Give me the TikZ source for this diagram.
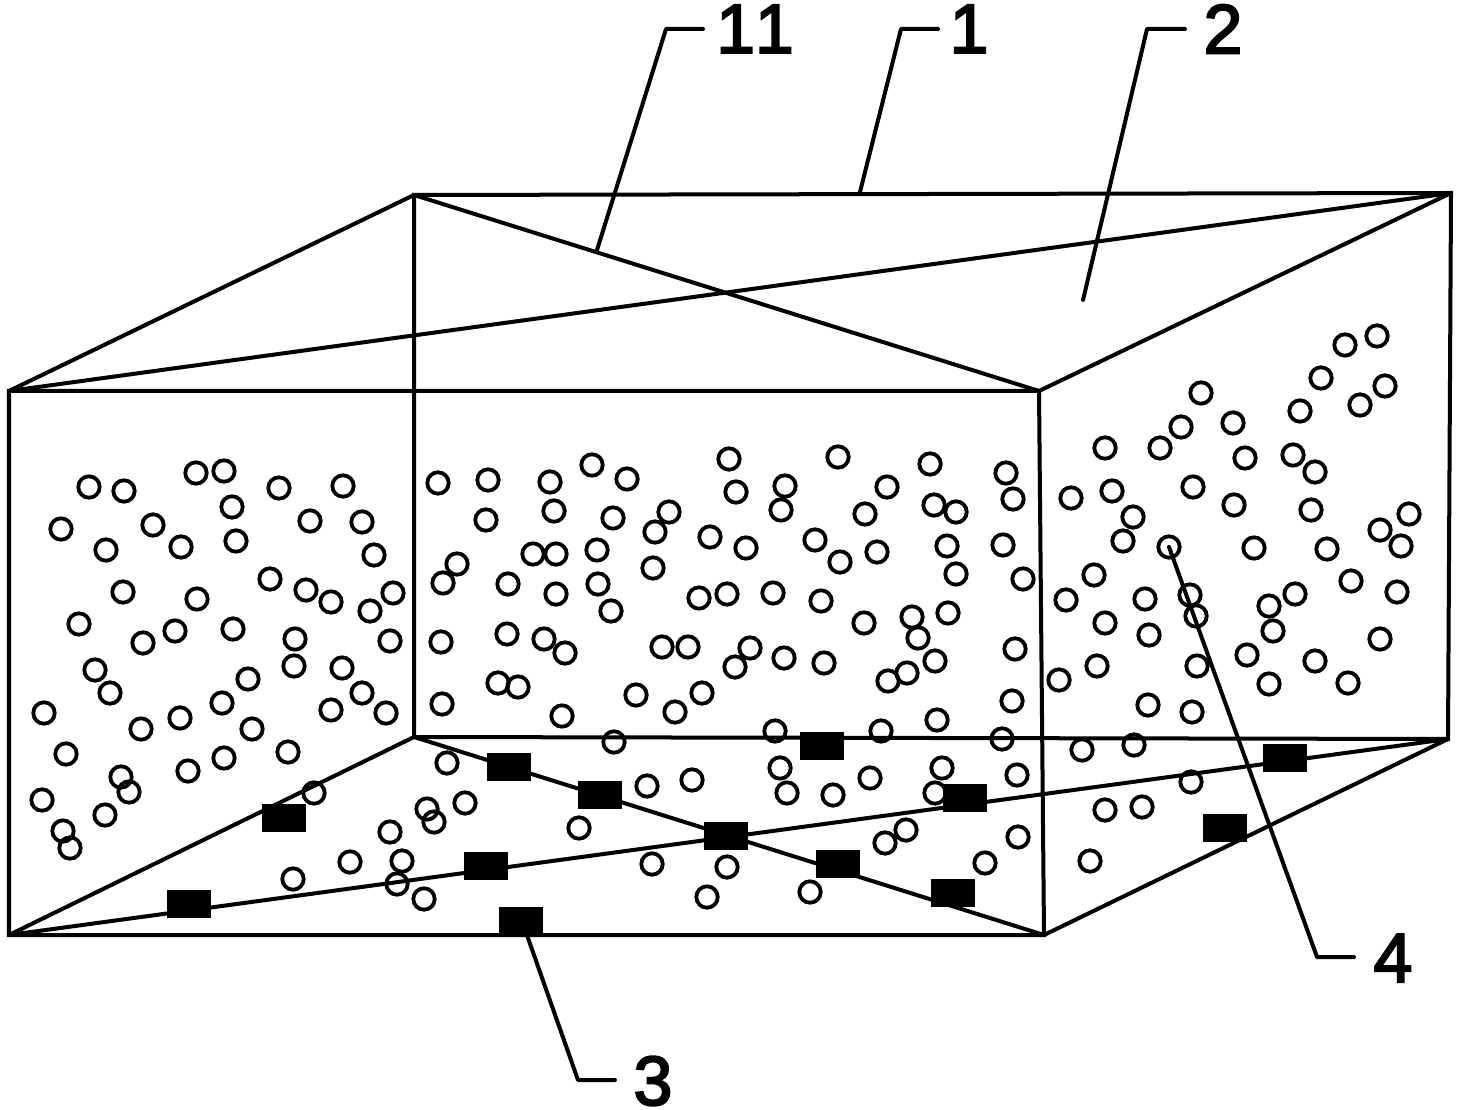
\documentclass[tikz,border=0pt]{standalone}
\usepackage{fontspec}
\setmainfont{Liberation Sans}
\newfontfamily\numfont[FakeBold=3,Kerning=Off]{Liberation Sans}
\usetikzlibrary{positioning}

\tikzset{
  frame/.style={line width=0.04cm, line join=miter},
  leader/.style={line width=0.04cm, line join=round, line cap=round},
  bubble/.style={line width=0.038cm},
  sensor/.style={fill=black, draw=none, minimum width=0.44cm, minimum height=0.27cm, inner sep=0pt},
  numlabel/.style={font=\fontsize{19.8}{20}\numfont, inner sep=0pt}
}

\begin{document}
\begin{tikzpicture}[x=0.01cm, y=-0.01cm]
\useasboundingbox (0,0) rectangle (1461,1110);

% box corners
\coordinate (ftl) at (9,391);
\coordinate (ftr) at (1039,391);
\coordinate (fbr) at (1044,935);
\coordinate (fbl) at (9,935);
\coordinate (btl) at (414,195);
\coordinate (btr) at (1451,193);
\coordinate (bbr) at (1448,739);
\coordinate (bbl) at (414,737);

% draw box
\draw[frame] (ftl) -- (ftr) -- (fbr) -- (fbl) -- cycle;
\draw[frame] (btl) -- (btr) -- (bbr) -- (bbl) -- cycle;
\draw[frame] (ftl) -- (btl);
\draw[frame] (ftr) -- (btr);
\draw[frame] (fbr) -- (bbr);
\draw[frame] (fbl) -- (bbl);

% diagonals of top and bottom
\draw[frame] (btl) -- (ftr);
\draw[frame] (ftl) -- (btr);
\draw[frame] (bbl) -- (fbr);
\draw[frame] (fbl) -- (bbr);

% left bubbles
\foreach \x/\y in {89/487,124/491,196/473,224/471,279/488,343/486,61/529,153/525,232/507,310/521,362/522,
  106/550,181/547,236/541,374/555,270/579,306/590,331/602,393/593,123/592,197/599,370/611,79/624,233/629,
  175/631,143/643,295/639,390/641,95/670,294/666,342/668,248/679,110/693,362/693,222/703,331/710,386/713,
  44/713,180/718,141/729,252/729,66/754,288/752,224/758,188/771,121/777,129/792,42/800,105/815,314/793,
  63/831,70/848}{
\draw[bubble] (\x,\y) circle (0.107cm);
}

% middle bubbles
\foreach \x/\y in {438/483,488/480,550/482,592/465,627/479,729/459,736/492,785/486,838/457,930/464,887/487,
  1006/473,1013/499,554/511,486/520,613/518,669/512,655/532,781/510,865/514,934/505,956/512,710/537,746/548,
  815/540,877/552,840/562,947/546,1003/545,533/554,556/554,597/550,457/564,653/568,956/574,1023/579,443/583,
  508/584,598/584,556/594,699/598,727/594,773/593,821/601,611/611,912/617,948/613,864/623,441/642,507/634,
  544/639,565/653,662/647,688/647,750/648,918/638,784/658,824/663,735/667,935/661,1015/649,907/673,888/681,
  498/683,518/687,636/695,702/693,442/704,1012/701,562/716,675/712,937/720,775/731,881/731,1002/739,614/742}{
\draw[bubble] (\x,\y) circle (0.107cm);
}

% right bubbles
\foreach \x/\y in {1377/336,1345/345,1321/378,1385/386,1360/405,1300/411,1201/393,1233/423,1181/427,1160/448,
  1105/448,1245/458,1293/455,1315/472,1193/487,1112/491,1071/498,1234/505,1311/510,1133/517,1409/514,1380/530,
  1401/546,1123/541,1254/548,1327/549,1169/547,1094/575,1351/581,1397/592,1295/594,1066/600,1145/599,1190/595,
  1269/606,1196/616,1105/623,1273/631,1149/635,1380/639,1247/655,1315/661,1197/666,1097/666,1059/680,1269/684,
  1348/683,1148/705,1192/712}{
\draw[bubble] (\x,\y) circle (0.107cm);
}

% bottom bubbles
\foreach \x/\y in {447/763,1082/750,1134/745,780/768,692/780,647/786,870/778,942/768,1017/775,787/793,833/795,
  935/793,1191/782,1105/810,1142/807,465/803,427/809,434/822,390/832,579/828,906/830,885/843,1018/837,402/861,
  350/862,293/879,397/884,424/899,652/864,727/867,985/863,1090/861,810/892,707/897}{
\draw[bubble] (\x,\y) circle (0.107cm);
}

% sensors
\foreach \x/\y [count=\i] in {509/767,600/795,726/836,838/864,953/893,822/746,965/798,1285/758,1225/828,486/866,189/904,284/818}{
\node[sensor] (sensor\i) at (\x,\y) {};
}
\node[sensor] (sensorfront) at (521,921) {};

% labels
\node[numlabel] (labeleleven) at (755,29) {11};
\node[numlabel] (labelone) at (969,29) {1};
\node[numlabel] (labeltwo) at (1223,29) {2};
\node[numlabel] (labelfour) at (1393,958) {4};
\node[numlabel] (labelthree) at (653,1081) {3};

% leader lines
\coordinate (tipeleven) at (597,250);
\coordinate (tipone) at (860,192);
\coordinate (tiptwo) at (1083,300);
\coordinate (tipfour) at (1169,547);
\draw[leader] (tipeleven) -- (666,29) -- (703,29);
\draw[leader] (tipone) -- (901,29) -- (938,29);
\draw[leader] (tiptwo) -- (1147,29) -- (1185,29);
\draw[leader] (tipfour) -- (1317,957) -- (1354,957);
\draw[leader] (sensorfront.south) ++(6,0) -- (578,1080) -- (615,1080);

\end{tikzpicture}
\end{document}
